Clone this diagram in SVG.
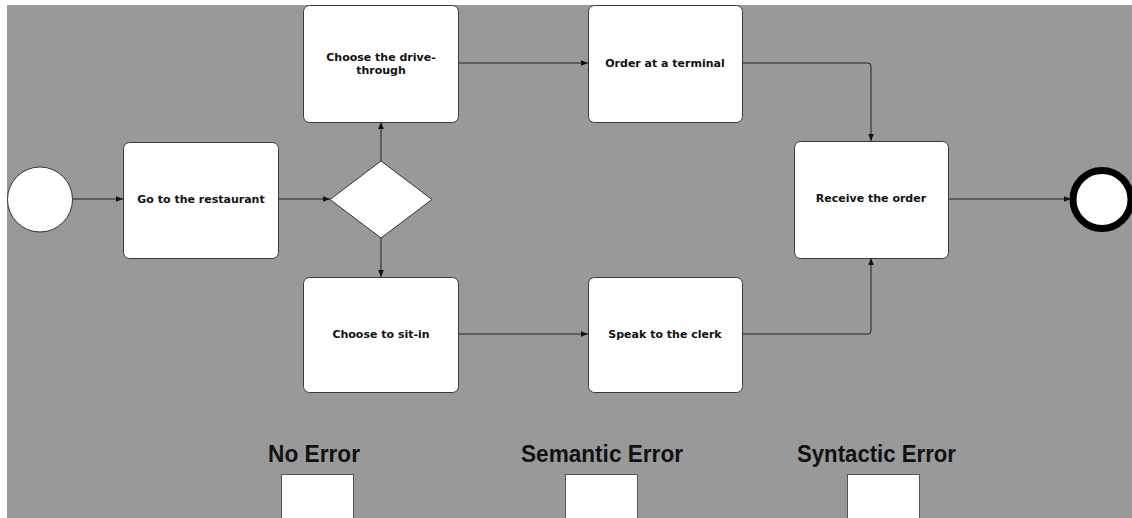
<svg xmlns="http://www.w3.org/2000/svg" width="1132" height="518" viewBox="0 0 1132 518">
  <style>
    .task { fill: #ffffff; stroke: #3a3a3a; stroke-width: 1; }
    .lbl { font-family: "DejaVu Sans", Verdana, sans-serif; font-weight: bold; font-size: 11px; fill: #111; text-anchor: middle; }
    .edge { fill: none; stroke: #222; stroke-width: 1; marker-end: url(#arrow); }
    .title { font-family: "Liberation Sans", Arial, sans-serif; font-weight: bold; font-size: 23px; fill: #111; text-anchor: middle; }
    .check { fill: #ffffff; stroke: #555; stroke-width: 1; }
  </style>
  <defs>
    <marker id="arrow" viewBox="0 0 8 8" refX="8" refY="4" markerWidth="7" markerHeight="7" markerUnits="userSpaceOnUse" orient="auto">
      <path d="M0,0.8 L8,4 L0,7.2 Z" fill="#111"/>
    </marker>
  </defs>

  <rect x="0" y="0" width="1132" height="518" fill="#ffffff"/>
  <rect x="7" y="5" width="1125" height="513" fill="#999999"/>

  <g id="connectors">
    <path class="edge" d="M72,199 L123,199"/>
    <path class="edge" d="M278,199 L330,199"/>
    <path class="edge" d="M381,161 L381,122"/>
    <path class="edge" d="M381,238 L381,277"/>
    <path class="edge" d="M458,63 L588,63"/>
    <path class="edge" d="M458,334 L588,334"/>
    <path class="edge" d="M742,63 L868,63 Q871,63 871,66 L871,141"/>
    <path class="edge" d="M742,334 L868,334 Q871,334 871,331 L871,258"/>
    <path class="edge" d="M948,199 L1071,199"/>
  </g>

  <g id="start">
    <circle cx="40" cy="199.5" r="32.5" fill="#ffffff" stroke="#333" stroke-width="1"/>
  </g>

  <g id="go-restaurant">
    <rect class="task" x="123.5" y="142.5" width="155" height="116" rx="6"/>
    <text class="lbl" x="201" y="203">Go to the restaurant</text>
  </g>

  <g id="gateway">
    <path d="M330,199.5 L381,161 L432,199.5 L381,238 Z" fill="#ffffff" stroke="#333" stroke-width="1"/>
  </g>

  <g id="drive-through">
    <rect class="task" x="303.5" y="5.5" width="155" height="117" rx="6"/>
    <text class="lbl" x="381" y="61">Choose the drive-</text>
    <text class="lbl" x="381" y="74">through</text>
  </g>

  <g id="sit-in">
    <rect class="task" x="303.5" y="277.5" width="155" height="115" rx="6"/>
    <text class="lbl" x="381" y="338">Choose to sit-in</text>
  </g>

  <g id="terminal">
    <rect class="task" x="588.5" y="5.5" width="154" height="117" rx="6"/>
    <text class="lbl" x="665" y="67">Order at a terminal</text>
  </g>

  <g id="clerk">
    <rect class="task" x="588.5" y="277.5" width="154" height="115" rx="6"/>
    <text class="lbl" x="665" y="338">Speak to the clerk</text>
  </g>

  <g id="receive">
    <rect class="task" x="794.5" y="141.5" width="154" height="117" rx="6"/>
    <text class="lbl" x="871" y="202">Receive the order</text>
  </g>

  <g id="end">
    <circle cx="1102" cy="199.5" r="29" fill="#ffffff" stroke="#000" stroke-width="7"/>
  </g>

  <g id="legend">
    <text class="title" x="314" y="462" textLength="92" lengthAdjust="spacingAndGlyphs">No Error</text>
    <rect class="check" x="281.5" y="474.5" width="72" height="50"/>
    <text class="title" x="602" y="462" textLength="162" lengthAdjust="spacingAndGlyphs">Semantic Error</text>
    <rect class="check" x="565.5" y="474.5" width="72" height="50"/>
    <text class="title" x="876.5" y="462" textLength="159" lengthAdjust="spacingAndGlyphs">Syntactic Error</text>
    <rect class="check" x="847.5" y="474.5" width="72" height="50"/>
  </g>
</svg>
